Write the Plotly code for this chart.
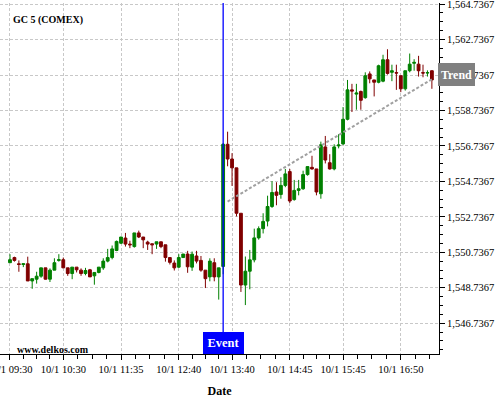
import pandas as pd
import plotly.graph_objects as go

SYMBOL = "GC 5 (COMEX)"
WATERMARK = "www.delkos.com"
START = "2023-10-01 09:30"
STEP = "5min"

OPEN = [1550.15, 1550.44, 1550.09, 1550.05, 1550.09, 1549.12, 1549.22, 1549.39, 1549.86, 1549.22,
        1549.73, 1550.28, 1550.32, 1549.86, 1549.54, 1549.90, 1549.73, 1549.54, 1549.75, 1549.41,
        1549.60, 1549.86, 1550.24, 1550.44, 1550.84, 1551.25, 1551.54, 1551.20, 1551.06, 1551.83,
        1551.60, 1551.31, 1551.22, 1551.20, 1551.33, 1551.16, 1550.44, 1550.13, 1549.90, 1550.44,
        1550.64, 1549.90, 1550.53, 1550.28, 1549.73, 1549.35, 1550.15, 1549.35, 1549.94, 1556.83,
        1556.00, 1555.50, 1552.94, 1548.89, 1549.67, 1550.31, 1551.55, 1552.07, 1552.50, 1553.32,
        1554.14, 1554.00, 1554.51, 1555.29, 1553.71, 1554.23, 1554.32, 1555.12, 1555.53, 1555.44,
        1554.04, 1556.68, 1555.79, 1555.44, 1556.74, 1556.85, 1558.24, 1559.90, 1559.66, 1559.81,
        1559.46, 1560.80, 1560.46, 1560.33, 1560.39, 1561.60, 1560.89, 1560.87, 1560.70, 1559.96,
        1560.98, 1561.40, 1561.35, 1560.87, 1560.85, 1560.98]
HIGH = [1550.63, 1550.49, 1550.28, 1550.09, 1550.49, 1549.25, 1549.64, 1549.86, 1549.86, 1549.83,
        1550.40, 1550.63, 1550.44, 1549.86, 1549.90, 1549.90, 1549.83, 1549.86, 1549.80, 1549.60,
        1549.90, 1550.40, 1550.93, 1551.12, 1551.40, 1551.60, 1551.83, 1551.39, 1551.83, 1551.96,
        1551.60, 1551.39, 1551.22, 1551.33, 1551.33, 1551.16, 1550.44, 1550.28, 1550.63, 1550.64,
        1550.82, 1550.78, 1550.82, 1550.53, 1549.73, 1550.40, 1550.40, 1549.86, 1556.90, 1557.54,
        1556.33, 1555.50, 1552.94, 1550.50, 1550.87, 1552.07, 1552.20, 1552.94, 1553.93, 1554.75,
        1554.69, 1554.97, 1555.44, 1555.44, 1554.82, 1554.82, 1555.34, 1555.57, 1556.18, 1555.44,
        1556.98, 1557.30, 1556.27, 1556.83, 1557.40, 1558.93, 1560.46, 1560.24, 1560.24, 1559.86,
        1560.89, 1560.94, 1560.46, 1561.32, 1561.88, 1562.19, 1561.32, 1561.32, 1560.70, 1560.98,
        1561.95, 1561.63, 1561.82, 1561.32, 1561.00, 1561.00]
LOW = [1550.15, 1550.21, 1549.64, 1549.90, 1549.12, 1548.68, 1548.97, 1549.30, 1549.20, 1549.06,
       1549.73, 1550.21, 1549.86, 1549.41, 1549.22, 1549.60, 1549.41, 1549.44, 1549.35, 1548.91,
       1549.55, 1549.75, 1550.17, 1550.34, 1550.80, 1551.20, 1551.06, 1550.97, 1551.00, 1551.54,
       1550.97, 1550.87, 1550.63, 1550.93, 1550.97, 1550.21, 1550.05, 1549.71, 1549.86, 1550.44,
       1549.58, 1549.69, 1550.11, 1549.64, 1548.72, 1549.10, 1549.10, 1548.07, 1549.50, 1555.59,
       1554.48, 1552.76, 1548.50, 1547.76, 1548.65, 1550.17, 1551.45, 1551.80, 1552.20, 1553.24,
       1553.39, 1553.76, 1554.41, 1553.52, 1553.65, 1553.95, 1554.26, 1555.06, 1555.40, 1553.95,
       1553.76, 1555.75, 1555.40, 1555.36, 1556.60, 1556.80, 1558.18, 1558.65, 1558.78, 1558.78,
       1559.40, 1560.27, 1559.53, 1560.27, 1560.33, 1560.76, 1560.39, 1559.90, 1559.77, 1559.86,
       1560.89, 1560.98, 1560.65, 1560.61, 1560.65, 1559.96]
CLOSE = [1550.32, 1550.28, 1550.05, 1550.09, 1549.12, 1549.25, 1549.39, 1549.86, 1549.22, 1549.73,
         1550.15, 1550.32, 1549.86, 1549.54, 1549.90, 1549.75, 1549.54, 1549.71, 1549.35, 1549.60,
         1549.90, 1550.24, 1550.44, 1550.93, 1551.35, 1551.60, 1551.20, 1551.16, 1551.83, 1551.60,
         1551.44, 1551.20, 1551.16, 1551.33, 1551.06, 1550.44, 1550.17, 1549.86, 1550.44, 1550.64,
         1549.92, 1550.63, 1550.24, 1549.73, 1549.25, 1550.24, 1549.35, 1549.86, 1556.83, 1556.00,
         1555.50, 1552.94, 1548.89, 1549.67, 1550.31, 1551.55, 1552.07, 1552.48, 1553.32, 1554.11,
         1553.95, 1554.51, 1555.16, 1553.63, 1554.23, 1554.32, 1555.12, 1555.57, 1555.44, 1554.14,
         1556.80, 1555.94, 1555.44, 1556.68, 1556.79, 1558.24, 1559.90, 1559.83, 1559.72, 1559.31,
         1560.70, 1560.52, 1560.33, 1561.26, 1561.60, 1560.83, 1560.98, 1560.85, 1559.96, 1560.98,
         1561.35, 1561.45, 1560.98, 1560.85, 1560.87, 1560.46]

EVENT_TIME = "2023-10-01 13:30"
TREND_TIMES = ["2023-10-01 13:35", "2023-10-01 17:25"]
TREND_VALUES = [1553.60, 1560.50]

TICK_TIMES = ["2023-10-01 09:30", "2023-10-01 10:30", "2023-10-01 11:35", "2023-10-01 12:40",
              "2023-10-01 13:40", "2023-10-01 14:45", "2023-10-01 15:45", "2023-10-01 16:50"]
TICK_LABELS = ["10/1 09:30", "10/1 10:30", "10/1 11:35", "10/1 12:40",
               "10/1 13:40", "10/1 14:45", "10/1 15:45", "10/1 16:50"]
X_RANGE = ["2023-10-01 09:18:45", "2023-10-01 17:33:00"]
Y_TICK0 = 1546.7367
Y_DTICK = 2
Y_RANGE = [1545.0, 1564.8]

GREEN = "#008000"
RED = "#800000"
FONT = "Liberation Serif"

times = pd.date_range(START, periods=len(OPEN), freq=STEP)

# minor x ticks: quarter points of each major interval
tt = pd.to_datetime(TICK_TIMES)
minor = []
for a, b in zip(tt[:-1], tt[1:]):
    d = (b - a) / 4
    minor += [a + d * k for k in (1, 2, 3)]
d_last = (tt[-1] - tt[-2]) / 4
minor += [tt[-1] + d_last * k for k in (1, 2, 3)]

fig = go.Figure()
fig.add_trace(go.Candlestick(
    x=times, open=OPEN, high=HIGH, low=LOW, close=CLOSE,
    increasing=dict(line=dict(color=GREEN, width=1), fillcolor=GREEN),
    decreasing=dict(line=dict(color=RED, width=1), fillcolor=RED),
    whiskerwidth=0, showlegend=False, hoverinfo="skip",
))
fig.add_trace(go.Scatter(
    x=TREND_TIMES, y=TREND_VALUES, mode="lines",
    line=dict(color="#a0a0a0", width=2, dash="3px,2px"),
    showlegend=False, hoverinfo="skip",
))

W, H = 500, 400
ML, MR, MT, MB = 0, 61, 3, 46
PH = H - MT - MB
PW = W - ML - MR

fig.add_shape(type="line", xref="x", yref="paper", x0=EVENT_TIME, x1=EVENT_TIME,
              y0=22 / PH, y1=1, line=dict(color="#0000ff", width=1.3), layer="above")

fig.add_annotation(x=11 / PW, y=1 - 17 / PH, xref="paper", yref="paper",
                   text="<b>" + SYMBOL + "</b>", showarrow=False, xanchor="left",
                   yanchor="middle", font=dict(family=FONT, size=10, color="black"))
fig.add_annotation(x=15 / PW, y=5 / PH, xref="paper", yref="paper",
                   text="<b>" + WATERMARK + "</b>", showarrow=False, xanchor="left",
                   yanchor="middle", font=dict(family=FONT, size=10, color="black"))
fig.add_annotation(x=EVENT_TIME, y=0, xref="x", yref="paper", text="<b>Event</b>",
                   showarrow=False, xanchor="center", yanchor="bottom",
                   bgcolor="#0000ff", width=41, height=22, borderpad=0, borderwidth=0,
                   font=dict(family=FONT, size=12.5, color="white"))
fig.add_annotation(x=1, y=TREND_VALUES[-1], xref="paper", yref="y", text="<b>Trend</b>",
                   showarrow=False, xanchor="left", yanchor="middle", xshift=-1, yshift=5,
                   bgcolor="#808080", width=37, height=23, borderpad=0, borderwidth=0,
                   font=dict(family=FONT, size=12, color="white"))

fig.update_layout(
    width=W, height=H,
    margin=dict(l=ML, r=MR, t=MT, b=MB, autoexpand=False),
    paper_bgcolor="white", plot_bgcolor="white",
    font=dict(family=FONT, size=10.5, color="black"),
    boxgap=0.1,
    hovermode=False,
    xaxis=dict(
        type="date", range=X_RANGE, rangeslider=dict(visible=False),
        automargin=False,
        tickmode="array", tickvals=TICK_TIMES, ticktext=TICK_LABELS,
        ticklabeloverflow="allow",
        showline=True, linecolor="black", linewidth=1,
        ticks="outside", ticklen=5, tickcolor="black",
        minor=dict(tickmode="array", tickvals=minor, ticks="outside", ticklen=4,
                   tickcolor="black", showgrid=False),
        showgrid=True, gridcolor="#c8c8c8", griddash="3px,2px", gridwidth=1,
        zeroline=False,
        title=dict(text="<b>Date</b>", font=dict(family=FONT, size=12), standoff=13),
    ),
    yaxis=dict(
        side="right", range=Y_RANGE, tickmode="linear", tick0=Y_TICK0, dtick=Y_DTICK,
        automargin=False,
        tickformat=",.4f", ticklabeloverflow="allow",
        showline=True, linecolor="black", linewidth=1,
        ticks="outside", ticklen=5, tickcolor="black",
        minor=dict(tick0=Y_TICK0, dtick=0.5, ticks="outside", ticklen=3,
                   tickcolor="black", showgrid=False),
        showgrid=True, gridcolor="#c8c8c8", griddash="3px,2px", gridwidth=1,
        zeroline=False,
    ),
)

fig.write_html("out.html", config={"displayModeBar": False, "staticPlot": True},
               post_script="document.body.style.margin='0px';")
